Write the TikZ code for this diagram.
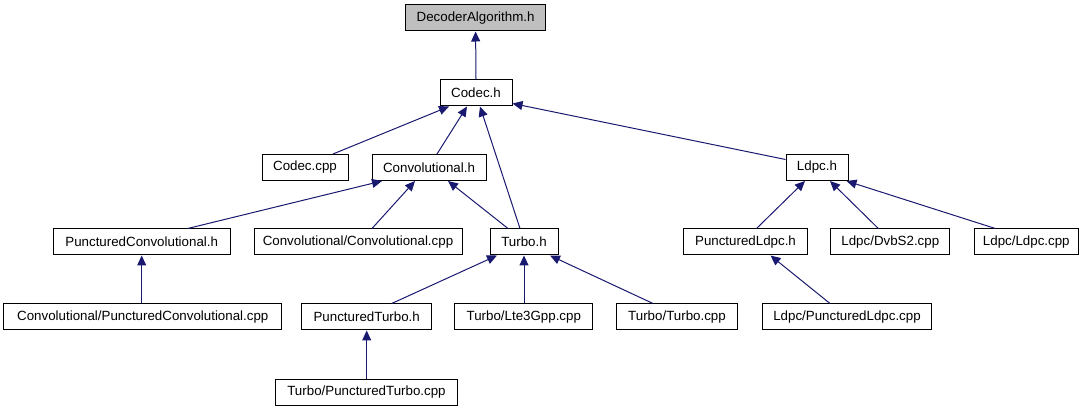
\documentclass[tikz,border=0pt]{standalone}
\usepackage{fontspec}
\setmainfont{Liberation Sans}
\usetikzlibrary{arrows.meta}
\definecolor{edgeblue}{HTML}{191970}
\definecolor{rootgray}{HTML}{BFBFBF}
\tikzset{
  filebox/.style={draw=black, line width=1pt, fill=white, rectangle, inner sep=0pt,
    minimum height=26pt, font=\fontsize{13.33}{15}\selectfont},
  rootbox/.style={filebox, fill=rootgray},
  edge/.style={draw=edgeblue, line width=1pt, -{Triangle[length=10pt,width=9pt]}}
}
\begin{document}
\begin{tikzpicture}[x=1pt,y=-1pt]
\useasboundingbox (0,0) rectangle (1089,411);
% row 0
\node[rootbox, minimum width=140pt] (dec) at (475.6,18) {DecoderAlgorithm.h};
% row 1
\node[filebox, minimum width=72pt] (codec) at (476,93) {Codec.h};
% row 2
\node[filebox, minimum width=86pt] (codeccpp) at (305,167.5) {Codec.cpp};
\node[filebox, minimum width=114pt] (conv) at (429,167.5) {Convolutional.h};
\node[filebox, minimum width=62pt] (ldpc) at (817,167.5) {Ldpc.h};
% row 3
\node[filebox, minimum width=177pt] (pconvh) at (141.7,242) {PuncturedConvolutional.h};
\node[filebox, minimum width=208pt] (convcpp) at (358,242) {Convolutional/Convolutional.cpp};
\node[filebox, minimum width=68pt] (turboh) at (524,242) {Turbo.h};
\node[filebox, minimum width=124pt] (pldpch) at (745.5,242) {PuncturedLdpc.h};
\node[filebox, minimum width=119pt] (dvbs2) at (890.3,242) {Ldpc/DvbS2.cpp};
\node[filebox, minimum width=104pt] (ldpccpp) at (1026.3,242) {Ldpc/Ldpc.cpp};
% row 4
\node[filebox, minimum width=277.7pt] (pconvcpp) at (142.8,317) {Convolutional/PuncturedConvolutional.cpp};
\node[filebox, minimum width=130pt] (pturboh) at (366.7,317) {PuncturedTurbo.h};
\node[filebox, minimum width=137.7pt] (lte) at (523.8,317) {Turbo/Lte3Gpp.cpp};
\node[filebox, minimum width=120.6pt] (turbocpp) at (677,317) {Turbo/Turbo.cpp};
\node[filebox, minimum width=169.4pt] (pldpccpp) at (847,317) {Ldpc/PuncturedLdpc.cpp};
% row 5
\node[filebox, minimum width=181.6pt] (ptcpp) at (366.5,392) {Turbo/PuncturedTurbo.cpp};
% edges
\draw[edge] (codec.north) -- (dec.south);
\draw[edge] ([xshift=28pt]codeccpp.north) -- ([xshift=-27pt]codec.south);
\draw[edge] ([xshift=8pt]conv.north) -- ([xshift=-9pt]codec.south);
\draw[edge] ([xshift=-4pt]turboh.north) -- ([xshift=4pt]codec.south);
\draw[edge] ([yshift=8pt]ldpc.west) -- ([yshift=3pt]codec.south east);
\draw[edge] ([xshift=46pt]pconvh.north) -- ([xshift=-47pt]conv.south);
\draw[edge] ([xshift=14pt]convcpp.north) -- ([xshift=-14pt]conv.south);
\draw[edge] ([xshift=-16pt]turboh.north) -- ([xshift=19pt]conv.south);
\draw[edge] (pconvcpp.north -| pconvh.south) -- (pconvh.south);
\draw[edge] ([xshift=25pt]pturboh.north) -- ([xshift=-27pt]turboh.south);
\draw[edge] (lte.north -| turboh.south) -- (turboh.south);
\draw[edge] ([xshift=-24pt]turbocpp.north) -- ([xshift=26pt]turboh.south);
\draw[edge] (ptcpp.north -| pturboh.south) -- (pturboh.south);
\draw[edge] ([xshift=11pt]pldpch.north) -- ([xshift=-12pt]ldpc.south);
\draw[edge] ([xshift=-12pt]dvbs2.north) -- ([xshift=13pt]ldpc.south);
\draw[edge] ([xshift=-31pt]ldpccpp.north) -- ([xshift=-2pt]ldpc.south east);
\draw[edge] ([xshift=-17pt]pldpccpp.north) -- ([xshift=25pt]pldpch.south);
\end{tikzpicture}
\end{document}
